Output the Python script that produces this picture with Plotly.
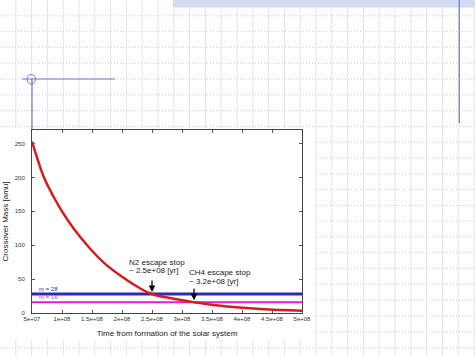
import plotly.graph_objects as go

# ---- data ----
time_yr = [5.0e7, 6.0e7, 7.0e7, 8.5e7, 1.0e8, 1.2e8, 1.42e8, 1.7e8, 2.06e8,
           2.3e8, 2.5e8, 2.8e8, 3.2e8, 3.75e8, 4.3e8, 5.0e8]
crossover_mass = [253, 225, 200, 173, 150, 124, 100, 74, 50,
                  36.5, 28, 22, 16, 9.5, 6, 3.5]

mass_labels = ["m = 28", "m = 16"]
mass_values = [28, 16]

x_tickvals = [5e7, 1e8, 1.5e8, 2e8, 2.5e8, 3e8, 3.5e8, 4e8, 4.5e8, 5e8]
x_ticktext = ["5e+07", "1e+08", "1.5e+08", "2e+08", "2.5e+08", "3e+08",
              "3.5e+08", "4e+08", "4.5e+08", "5e+08"]
y_tickvals = [0, 50, 100, 150, 200, 250]

events = ["N2 escape stop", "CH4 escape stop"]
event_times = [2.5e8, 3.2e8]
event_texts = ["~ 2.5e+08 [yr]", "~ 3.2e+08 [yr]"]
event_masses = [28, 16]

# ---- page geometry (pixels) ----
W, H = 475, 356
L, R, T, B = 32, 173, 130, 43
PW, PH = W - L - R, H - T - B


def px(x):
    return (x - L) / PW


def py(y):
    return (H - B - y) / PH


FONT = "Liberation Sans, Arial, Helvetica, sans-serif"

fig = go.Figure()

fig.add_trace(go.Scatter(x=[x_tickvals[0], x_tickvals[-1]], y=[mass_values[0]] * 2,
                         mode="lines", line=dict(color="#2a2ab4", width=3),
                         hoverinfo="skip", showlegend=False))
fig.add_trace(go.Scatter(x=[x_tickvals[0], x_tickvals[-1]], y=[mass_values[1]] * 2,
                         mode="lines", line=dict(color="#e01ed2", width=2),
                         hoverinfo="skip", showlegend=False))
fig.add_trace(go.Scatter(x=time_yr, y=crossover_mass, mode="lines",
                         line=dict(color="#d41c1c", width=2.5, shape="spline", smoothing=1.3),
                         showlegend=False))

shapes = []
# slide background grid
step = 15.8
k = 1
while k * step < W:
    x = k * step
    shapes.append(dict(type="line", xref="paper", yref="paper", layer="below",
                       x0=px(x), x1=px(x), y0=py(0), y1=py(H),
                       line=dict(color="#e2e2f3", width=1)))
    k += 1
k = 1
while k * step < H:
    y = k * step
    shapes.append(dict(type="line", xref="paper", yref="paper", layer="below",
                       x0=px(0), x1=px(W), y0=py(y), y1=py(y),
                       line=dict(color="#c6c6e0", width=1, dash="1px,2px")))
    k += 1
# white chart picture box
shapes.append(dict(type="rect", xref="paper", yref="paper", layer="below",
                   x0=px(0), x1=px(313), y0=py(128), y1=py(340),
                   fillcolor="white", line=dict(width=0)))
# hatched bar on top
shapes.append(dict(type="rect", xref="paper", yref="paper", layer="below",
                   x0=px(173), x1=px(W), y0=py(0), y1=py(7.5),
                   fillcolor="#d2dbf2", line=dict(width=0)))
# slide decoration lines
deco = "#6f7cc0"
shapes.append(dict(type="line", xref="paper", yref="paper", layer="below",
                   x0=px(459.3), x1=px(459.3), y0=py(0), y1=py(123),
                   line=dict(color=deco, width=1.2)))
shapes.append(dict(type="line", xref="paper", yref="paper", layer="below",
                   x0=px(22), x1=px(115), y0=py(79), y1=py(79),
                   line=dict(color=deco, width=1.2)))
shapes.append(dict(type="line", xref="paper", yref="paper", layer="below",
                   x0=px(32), x1=px(32), y0=py(79), y1=py(130),
                   line=dict(color=deco, width=1.2)))
shapes.append(dict(type="circle", xref="paper", yref="paper", layer="below",
                   x0=px(27), x1=px(35.5), y0=py(74.5), y1=py(84),
                   line=dict(color=deco, width=1)))

annotations = []
label_colors = ["#2a2ab4", "#b03cc0"]
for lab, val, col in zip(mass_labels, mass_values, label_colors):
    annotations.append(dict(x=5.8e7, y=val, xref="x", yref="y", text=lab,
                            showarrow=False, xanchor="left", yanchor="middle", yshift=5,
                            font=dict(family=FONT, size=6, color=col)))

text_x = [2.08e8, 3.08e8]
shift1 = [32, 30]
shift2 = [24, 21]
for name, t, txt, m, tx, s1, s2 in zip(events, event_times, event_texts, event_masses,
                                        text_x, shift1, shift2):
    annotations.append(dict(x=t, y=m, xref="x", yref="y", text="", showarrow=True,
                            arrowhead=2, arrowsize=1, arrowwidth=1.3, arrowcolor="black",
                            ax=0, ay=-15, standoff=2))
    annotations.append(dict(x=tx, y=m, xref="x", yref="y", text=name, showarrow=False,
                            xanchor="left", yanchor="middle", yshift=s1,
                            font=dict(family=FONT, size=8, color="#222")))
    annotations.append(dict(x=tx, y=m, xref="x", yref="y", text=txt, showarrow=False,
                            xanchor="left", yanchor="middle", yshift=s2,
                            font=dict(family=FONT, size=8, color="#222")))

axis_common = dict(showline=True, linecolor="#444", linewidth=1, mirror="ticks",
                   ticks="inside", ticklen=3, tickcolor="#555", showgrid=False,
                   zeroline=False, automargin=False,
                   tickfont=dict(family=FONT, size=6, color="#333"))

fig.update_layout(
    width=W, height=H,
    margin=dict(l=L, r=R, t=T, b=B, autoexpand=False),
    paper_bgcolor="white", plot_bgcolor="white",
    shapes=shapes, annotations=annotations,
    xaxis=dict(range=[5e7, 5e8], tickvals=x_tickvals, ticktext=x_ticktext,
               title=dict(text="Time from formation of the solar system",
                          font=dict(family=FONT, size=8, color="#222"), standoff=9),
               **axis_common),
    yaxis=dict(range=[0, 270], tickvals=y_tickvals,
               title=dict(text="Crossover Mass [amu]",
                          font=dict(family=FONT, size=8, color="#222"), standoff=4),
               ticklabelstandoff=5, **axis_common),
)

fig.write_html("out.html", config={"displayModeBar": False},
               post_script="document.body.style.margin='0px';")
